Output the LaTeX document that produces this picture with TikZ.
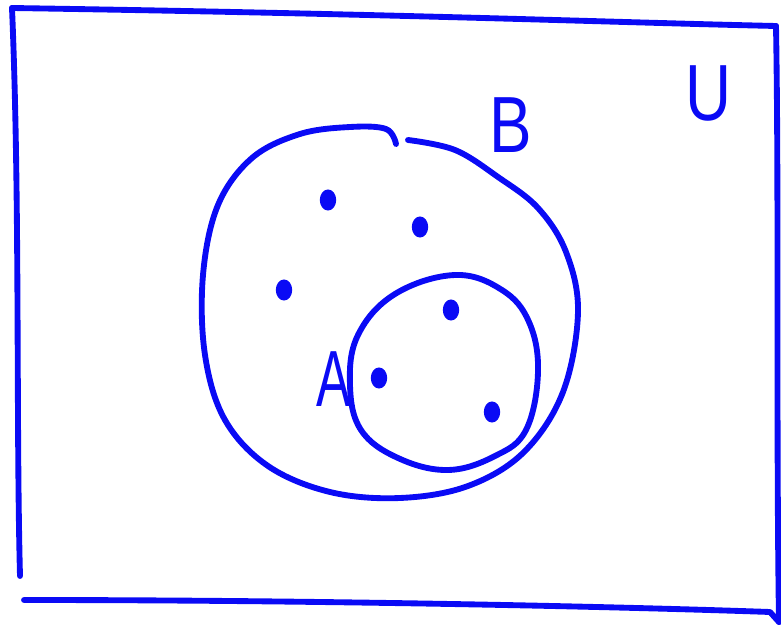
\documentclass[tikz,border=0pt]{standalone}
\usepackage{fontspec}
\setmainfont{Liberation Sans}
\usepackage{tikz}
\usetikzlibrary{calc,positioning,shapes.geometric}
\definecolor{penblue}{RGB}{10,10,245}

\begin{document}
\begin{tikzpicture}[x=0.03cm, y=-0.03cm, line cap=round, line join=round,
    every node/.style={text=penblue, font=\fontsize{68}{68}\selectfont},
    pen/.style={draw=penblue, line width=5pt},
    elem/.style={ellipse, fill=penblue, inner sep=0pt, minimum width=14pt, minimum height=18pt}]
  \useasboundingbox (0,0) rectangle (781,628);
  % universe
  \coordinate (U1) at (12,8);
  \coordinate (U2) at (776,26);
  \coordinate (U3) at (779,622);
  \coordinate (U4) at (24,600);
  \draw[pen] (U1) .. controls (400,14) and (600,22) .. (U2);
  \draw[pen] (U1) .. controls (20,200) and (16,420) .. (20,576);
  \draw[pen] (U4) .. controls (300,600) and (600,606) .. (770,612) -- (U3);
  \draw[pen] (U2) .. controls (779,200) and (776,420) .. (U3);
  \node (lblU) at (709,93) {\scalebox{0.8}[1]{U}};
  % set B, with the gap at the top
  \draw[pen] plot[smooth, tension=0.6] coordinates {(396,144) (386,129) (350,127) (300,134) (252,158)
    (218,205) (203,275) (205,355) (225,420) (268,466) (330,492) (400,498) (468,486) (524,452)
    (563,392) (578,312) (566,252) (538,208) (498,177) (455,150) (408,140)};
  \node (lblB) at (511,125) {\scalebox{0.8}[1]{B}};
  % set A
  \draw[pen] plot[smooth cycle, tension=0.65] coordinates {(455,275) (502,290) (529,322) (538,372)
    (526,430) (495,456) (448,470) (398,458) (361,430) (350,385) (358,335) (395,294)};
  \node (lblA) at (334,379) {\scalebox{0.65}[1]{A}};
  % elements
  \node[elem] (b1) at (328,200) {};
  \node[elem] (b2) at (420,227) {};
  \node[elem] (b3) at (284,290) {};
  \node[elem] (a1) at (451,310) {};
  \node[elem] (a2) at (379,378) {};
  \node[elem] (a3) at (492,412) {};
\end{tikzpicture}
\end{document}
